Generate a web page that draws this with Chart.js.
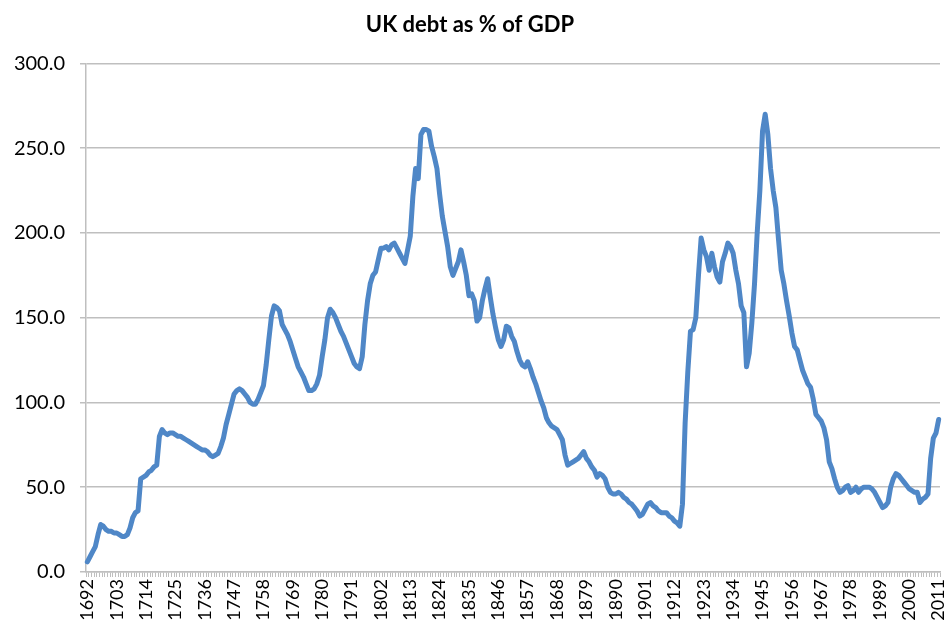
<!DOCTYPE html>
<html>
<head>
<meta charset="utf-8">
<title>UK debt as % of GDP</title>
<script src="https://cdn.jsdelivr.net/npm/chart.js@4.4.0/dist/chart.umd.min.js"></script>
<style>
  html, body { margin: 0; padding: 0; background: #fff; }
  #debtChart { display: block; }
</style>
</head>
<body>
<canvas id="debtChart" width="948" height="633"></canvas>
<script>
// Debt as % of GDP, one value per year, 1692 to 2011
const firstYear = 1692;
const lastYear = 2011;
const labelEvery = 11; // every 11th year gets a tick label

const debtPct = [
  // 1692-1699
  6, 9, 12, 15, 22, 28, 27, 25,
  // 1700s
  24, 24, 23, 23, 22, 21, 21, 22, 26, 32,
  // 1710s
  35, 36, 55, 56, 57, 59, 60, 62, 63, 80,
  // 1720s
  84, 82, 81, 82, 82, 81, 80, 80, 79, 78,
  // 1730s
  77, 76, 75, 74, 73, 72, 72, 71, 69, 68,
  // 1740s
  69, 70, 74, 79, 87, 93, 99, 105, 107, 108,
  // 1750s
  107, 105, 103, 100, 99, 99, 102, 106, 110, 122,
  // 1760s
  137, 151, 157, 156, 154, 146, 143, 140, 136, 131,
  // 1770s
  126, 121, 118, 115, 111, 107, 107, 108, 111, 116,
  // 1780s
  127, 137, 150, 155, 153, 150, 146, 142, 139, 135,
  // 1790s
  131, 127, 123, 121, 120, 127, 146, 160, 170, 175,
  // 1800s
  177, 184, 191, 191, 192, 190, 193, 194, 191, 188,
  // 1810s
  185, 182, 190, 198, 222, 238, 232, 258, 261, 261,
  // 1820s
  260, 251, 245, 238, 223, 210, 201, 192, 180, 175,
  // 1830s
  179, 183, 190, 183, 175, 163, 164, 160, 148, 150,
  // 1840s
  160, 167, 173, 162, 152, 144, 137, 133, 137, 145,
  // 1850s
  144, 139, 136, 130, 125, 122, 121, 124, 120, 115,
  // 1860s
  111, 106, 101, 97, 91, 88, 86, 85, 84, 81,
  // 1870s
  78, 69, 63, 64, 65, 66, 67, 69, 71, 67,
  // 1880s
  65, 62, 60, 56, 58, 57, 55, 50, 47, 46,
  // 1890s
  46, 47, 46, 44, 43, 41, 40, 38, 36, 33,
  // 1900s
  34, 37, 40, 41, 39, 38, 36, 35, 35, 35,
  // 1910s
  33, 32, 30, 29, 27, 40, 88, 118, 142, 143,
  // 1920s
  150, 175, 197, 190, 186, 178, 188, 180, 174, 171,
  // 1930s
  183, 188, 194, 192, 188, 178, 170, 157, 153, 121,
  // 1940s
  129, 147, 170, 200, 225, 260, 270, 258, 238, 225,
  // 1950s
  215, 196, 178, 170, 160, 151, 141, 133, 131, 125,
  // 1960s
  119, 115, 111, 109, 102, 93, 91, 89, 85, 78,
  // 1970s
  65, 61, 55, 50, 47, 48, 50, 51, 47, 48,
  // 1980s
  50, 47, 49, 50, 50, 50, 49, 47, 44, 41,
  // 1990s
  38, 39, 41, 50, 55, 58, 57, 55, 53, 51,
  // 2000s
  49, 48, 47, 47, 41, 43, 44, 46, 67, 79,
  // 2010-2011
  82, 90,
];

const years = [];
for (let y = firstYear; y <= lastYear; y++) years.push(String(y));

const yMin = 0;
const yMax = 300;
const yStep = 50;

const FONT = "Lato, 'Open Sans', sans-serif";
const GRID = "#BFBFBF";

/**
 * Build the line chart
 */
function initChart() {
  const canvas = document.getElementById("debtChart");
  const ctx = canvas.getContext("2d");

  return new Chart(ctx, {
    type: "line",
    data: {
      labels: years,
      datasets: [
        {
          label: "UK debt as % of GDP",
          data: debtPct,
          borderColor: "#4F87C7",
          backgroundColor: "transparent",
          borderWidth: 5,
          pointRadius: 0,
          tension: 0,
          borderJoinStyle: "round",
          borderCapStyle: "round",
        },
      ],
    },
    options: {
      responsive: false,
      animation: false,
      layout: { padding: { left: 0, right: 8, top: 0, bottom: 0 } },
      plugins: {
        legend: { display: false },
        tooltip: { enabled: false },
        title: {
          display: true,
          text: "UK debt as % of GDP",
          color: "#000",
          font: { family: FONT, size: 22, weight: "bold" },
          padding: { top: 12, bottom: 25 },
        },
      },
      scales: {
        x: {
          offset: true,
          grid: {
            drawOnChartArea: false,
            drawTicks: true,
            tickLength: 5,
            color: GRID,
            lineWidth: 1,
            offset: true,
          },
          border: { color: GRID, width: 1.5 },
          ticks: {
            autoSkip: false,
            maxRotation: 90,
            minRotation: 90,
            padding: 2,
            color: "#000",
            font: { family: FONT, size: 18 },
            callback: (value, index) =>
              index % labelEvery === 0 ? years[index] : "",
          },
          afterFit: (scale) => {
            scale.height = 61; // keep plot bottom at the reference position
            scale.paddingLeft = 0;
            scale.paddingRight = 0;
          },
        },
        y: {
          min: yMin,
          max: yMax,
          grid: {
            color: GRID,
            lineWidth: 1.5,
            tickLength: 6,
          },
          border: { color: GRID, width: 1.5 },
          ticks: {
            stepSize: yStep,
            padding: 15,
            color: "#000",
            font: { family: FONT, size: 20 },
            callback: (value) => Number(value).toFixed(1),
          },
          afterFit: (scale) => {
            scale.width = 86;
            scale.paddingTop = 0;
            scale.paddingBottom = 0;
          },
        },
      },
    },
  });
}

initChart();
</script>
</body>
</html>
